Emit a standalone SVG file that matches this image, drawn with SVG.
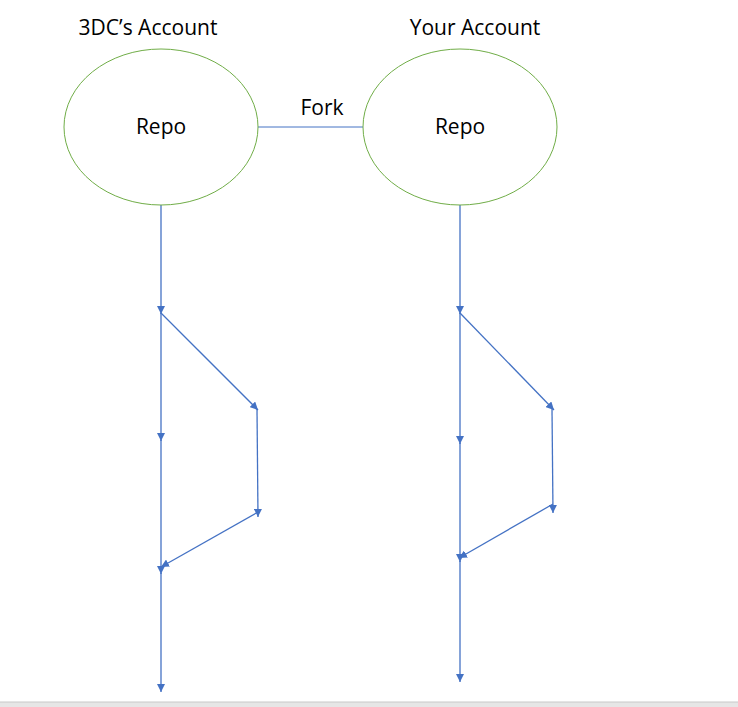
<svg xmlns="http://www.w3.org/2000/svg" width="738" height="707" viewBox="0 0 738 707">
<style>
.ell{fill:#fff;stroke:#70ad47;stroke-width:1}
.t{font-family:"Open Sans","Liberation Sans",sans-serif;font-size:21px;fill:#000}
.c{stroke:#4472c4;stroke-width:1.3;fill:none}
.fork{stroke:#4472c4;stroke-width:1;fill:none}
</style>
<defs>
<marker id="a" viewBox="0 0 10 10" refX="10" refY="5" markerWidth="8" markerHeight="8" markerUnits="userSpaceOnUse" orient="auto">
<path d="M0,0 L10,5 L0,10 z" fill="#4472c4"/>
</marker>
</defs>
<rect width="738" height="707" fill="#fff"/>
<rect x="0" y="702" width="738" height="5" fill="#e6e6e6"/>
<line x1="0" y1="702" x2="738" y2="702" stroke="#c8c8c8" stroke-width="1"/>
<text class="t" x="148" y="35" text-anchor="middle">3DC’s Account</text>
<text class="t" x="475" y="35" text-anchor="middle">Your Account</text>
<g id="conn">
<line class="fork" x1="257" y1="127" x2="363" y2="127"/>
<text class="t" x="322" y="115" text-anchor="middle">Fork</text>
<line class="c" x1="161" y1="205" x2="161" y2="314" marker-end="url(#a)"/>
<line class="c" x1="161" y1="313" x2="161" y2="441" marker-end="url(#a)"/>
<line class="c" x1="161" y1="440" x2="161" y2="574" marker-end="url(#a)"/>
<line class="c" x1="161" y1="573" x2="161" y2="692" marker-end="url(#a)"/>
<line class="c" x1="161" y1="313" x2="258" y2="410" marker-end="url(#a)"/>
<line class="c" x1="257" y1="409" x2="258" y2="517" marker-end="url(#a)"/>
<line class="c" x1="258" y1="512" x2="161" y2="567" marker-end="url(#a)"/>
<line class="c" x1="460" y1="205" x2="460" y2="314" marker-end="url(#a)"/>
<line class="c" x1="460" y1="313" x2="460" y2="444" marker-end="url(#a)"/>
<line class="c" x1="460" y1="443" x2="460" y2="562" marker-end="url(#a)"/>
<line class="c" x1="460" y1="561" x2="460" y2="682" marker-end="url(#a)"/>
<line class="c" x1="460" y1="313" x2="554" y2="410" marker-end="url(#a)"/>
<line class="c" x1="552" y1="409" x2="553" y2="513" marker-end="url(#a)"/>
<line class="c" x1="553" y1="504" x2="459" y2="558" marker-end="url(#a)"/>
</g>
<g id="repo1">
<ellipse class="ell" cx="161" cy="127" rx="97" ry="78"/>
<text class="t" x="161" y="134" text-anchor="middle">Repo</text>
</g>
<g id="repo2">
<ellipse class="ell" cx="460" cy="127" rx="97" ry="78"/>
<text class="t" x="460" y="134" text-anchor="middle">Repo</text>
</g>
</svg>
